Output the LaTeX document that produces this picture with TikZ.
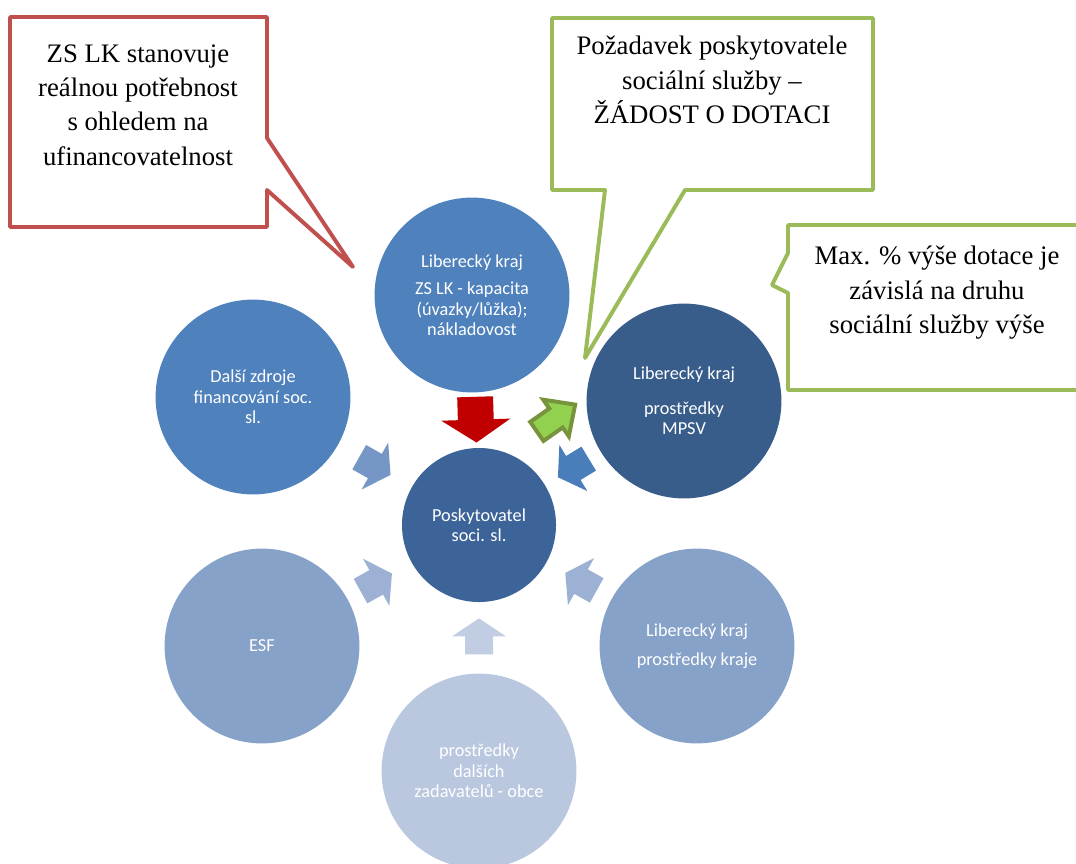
\documentclass[tikz,border=0pt]{standalone}
\usepackage{fontspec}
\setmainfont{Liberation Serif}
\newfontfamily\calibri{Carlito}

\definecolor{lkblue}{HTML}{4F81BD}
\definecolor{hubblue}{HTML}{3D6499}
\definecolor{mpsvblue}{HTML}{385D8B}
\definecolor{esfblue}{HTML}{87A2C8}
\definecolor{obceblue}{HTML}{B9C7DF}
\definecolor{arrowred}{HTML}{C00000}
\definecolor{arrowgreen}{HTML}{92D050}
\definecolor{arrowolive}{HTML}{77933C}
\definecolor{calloutred}{HTML}{C0504D}
\definecolor{calloutgreen}{HTML}{9BBB59}
\definecolor{arrowmid}{HTML}{7697C5}
\definecolor{arrowdark}{HTML}{4A7EBB}
\definecolor{arrowlight}{HTML}{9CB1D3}
\definecolor{arrowpale}{HTML}{C1CDE3}

\begin{document}
\begin{tikzpicture}[
			x=0.025cm, y=-0.025cm,
			allow upside down,
			source/.style={circle, inner sep=0pt, minimum size=4.87cm, text=white, align=center,
				font=\calibri\fontsize{13}{14.5}\selectfont},
			hubnode/.style={source, minimum size=3.85cm},
			callout/.style={fill=white, line width=2.8pt, line join=round},
			callouttext/.style={align=center, font=\fontsize{19}{24.5}\selectfont},
			blockarrow/.pic={
				\path[pic actions] (-18,-14) -- (0,-14) -- (0,-27) -- (18,0) -- (0,27) -- (0,14) -- (-18,14) -- cycle;
			}
			]
			
			\useasboundingbox (0,0) rectangle (1076,863);
			\clip (0,0) rectangle (1076,863);
			
			% Circles
			\node (kapacita) [source, fill=lkblue] at (472,295) {Liberecký kraj\\[5pt]ZS LK - kapacita\\(úvazky/lůžka);\\nákladovost};
			\node (dalsi) [source, fill=lkblue] at (253,397) {Další zdroje\\financování soc.\\sl.};
			\node (mpsv) [source, fill=mpsvblue] at (684,401) {Liberecký kraj\\[10pt]prostředky\\MPSV};
			\node (esf) [source, fill=esfblue] at (262,646) {ESF};
			\node (kraj) [source, fill=esfblue] at (697,646) {Liberecký kraj\\[6pt]prostředky kraje};
			\node (obce) [source, fill=obceblue] at (479,771) {prostředky\\dalších\\zadavatelů - obce};
			\node (hub) [hubnode, fill=hubblue] at (479,525) {Poskytovatel\\soci. sl.};
			
			% Arrows
			\path (kapacita) -- (hub) pic[pos=0.49, sloped, fill=arrowred, xscale=1.27, yscale=1.28] {blockarrow};
			\path (dalsi) -- (hub) pic[pos=0.5, sloped, fill=arrowmid] {blockarrow};
			\path (mpsv) -- (hub) pic[pos=0.49, sloped, fill=arrowdark] {blockarrow};
			\path (esf) -- (hub) pic[pos=0.45, sloped, fill=arrowlight] {blockarrow};
			\path (kraj) -- (hub) pic[pos=0.47, sloped, fill=arrowlight] {blockarrow};
			\path (obce) -- (hub) pic[pos=0.52, sloped, fill=arrowpale] {blockarrow};
			\coordinate (zadost) at (556,418);
			\path (zadost) pic[rotate=35, fill=arrowgreen, draw=arrowolive, line width=2.8pt, xscale=1.3, yscale=0.83] {blockarrow};
			
			% Callouts
			\draw [callout, draw=calloutred] (10,17) -- (267,17) -- (267,138) -- (353,267) -- (267,190) -- (267,227) -- (10,227) -- cycle;
			\node (potreba) [callouttext] at (138,105) {ZS LK stanovuje\\reálnou potřebnost\\s ohledem na\\ufinancovatelnost};
			
			\draw [callout, draw=calloutgreen] (552,18) -- (873,18) -- (873,190) -- (685,190) -- (585,358) -- (605,190) -- (552,190) -- cycle;
			\node (zadosttext) [callouttext] at (712,80) {Požadavek poskytovatele\\sociální služby –\\ŽÁDOST O DOTACI};
			
			\draw [callout, draw=calloutgreen] (788,225) -- (1095,225) -- (1095,390) -- (788,390) -- (788,293) -- (772,285) -- (788,253) -- cycle;
			\node (maxdotace) [callouttext] at (937,293) {Max. \% výše dotace je\\závislá na druhu\\sociální služby výše};
			
		\end{tikzpicture}
\end{document}
